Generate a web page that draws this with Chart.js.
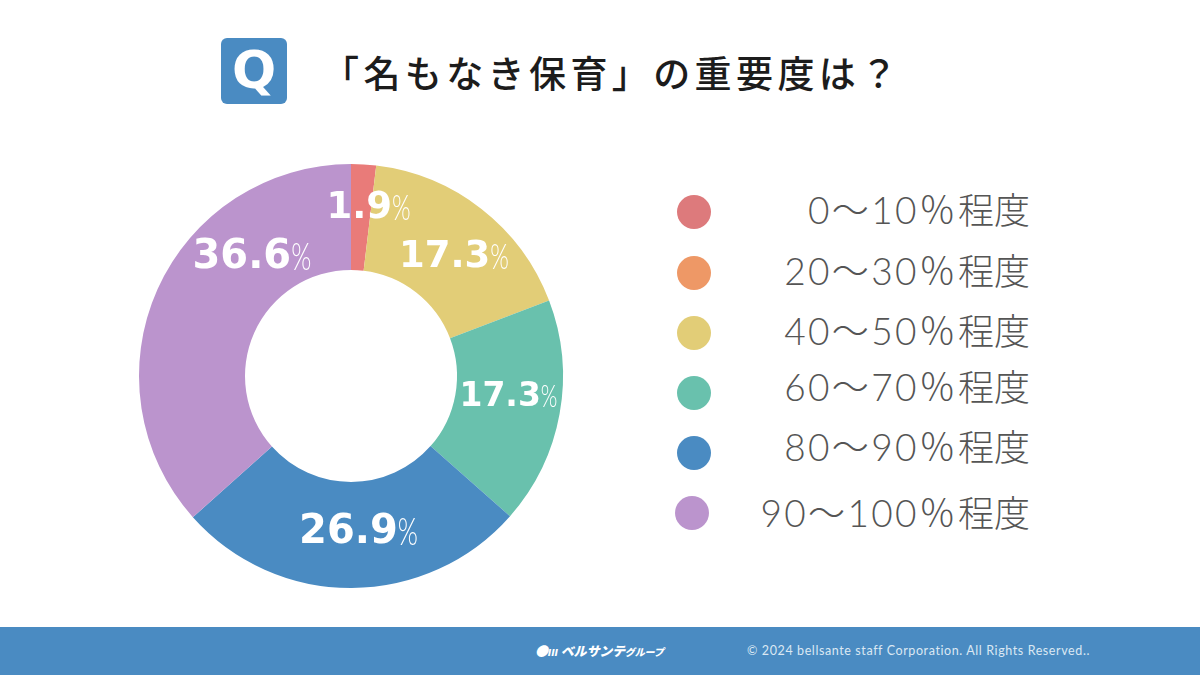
<!DOCTYPE html>
<html lang="ja">
<head>
<meta charset="utf-8">
<title>「名もなき保育」の重要度は?</title>
<script src="https://cdn.jsdelivr.net/npm/chart.js@4"></script>
<style>
html, body { margin: 0; padding: 0; background: #fff; }
#page { position: relative; width: 1200px; height: 675px; overflow: hidden; font-family: "Noto Sans CJK JP", sans-serif; }
#page div { position: absolute; white-space: nowrap; }
#chart { position: absolute; left: 131px; top: 156px; }
#icon { left: 221px; top: 38px; width: 66px; height: 66px; border-radius: 6px; background: #4a8bc2; color: #fff;
    font: 700 52px/64px "DejaVu Sans", sans-serif; text-align: center; }
#title { left: 322px; top: 44px; font-size: 37px; line-height: 56px; font-weight: 500; letter-spacing: 4.4px; color: #1c1c1c; }
.dot { width: 34px; height: 34px; border-radius: 50%; }
.name { right: 170px; font-family: Lato, "Noto Sans CJK JP", sans-serif; font-size: 37px; line-height: 44px; font-weight: 300; color: #555; letter-spacing: 2.3px; }
.name b { font-family: "Noto Sans CJK JP", sans-serif; font-size: 36px; font-weight: 300; letter-spacing: 0; }
#band { left: 0; top: 627px; width: 1200px; height: 48px; background: #4a8bc2; }
#logo { left: 535px; top: 641px; font-size: 13px; line-height: 20px; font-weight: 900; font-style: italic; color: #fff; letter-spacing: -.2px; }
#logo small { font-size: 10px; }
#copy { right: 110px; top: 642px; font: 400 12.5px/18px Lato, sans-serif; color: #dbe8f3; letter-spacing: .6px; }
</style>
</head>
<body>
<div id="page">
    <div id="icon">Q</div>
    <div id="title">「名もなき保育」の重要度は&#xFF1F;</div>
    <canvas id="chart" width="440" height="440"></canvas>
    <div id="band"></div>
    <div id="logo">●ııı ベルサンテ<small>グループ</small></div>
    <div id="copy">© 2024 bellsante staff Corporation. All Rights Reserved..</div>
</div>
<script>
const categories = ['0〜10\uFF05程度', '20〜30\uFF05程度', '40〜50\uFF05程度', '60〜70\uFF05程度', '80〜90\uFF05程度', '90〜100\uFF05程度'];
const shares = [1.9, 0, 17.3, 17.3, 26.9, 36.6];
const sliceColors = ['#e97b79', '#ee9866', '#e2cd77', '#69c1ad', '#4a8bc2', '#bb94cd'];
const dotColors = ['#dd7a7c', '#ee9866', '#e2cd77', '#69c1ad', '#4a8bc2', '#bb94cd'];

// hand placed in the original, so nudged away from the middle of each slice
const labelShift = [[8, -9], [0, 0], [5, 7], [1, -7], [7, -2], [46, -53]];
const labelSize = [37, 40, 37, 33, 40, 40];
const dotY = [212, 273, 333, 393, 453, 513];
const nameY = [208, 269, 329, 385, 445, 511];

const page = document.getElementById('page');
categories.forEach(function (cat, i) {
    let dot = document.createElement('div');
    dot.className = 'dot';
    dot.style.left = (i === 5 ? 675 : 677) + 'px';
    dot.style.top = (dotY[i] - 17) + 'px';
    dot.style.background = dotColors[i];
    page.appendChild(dot);

    let name = document.createElement('div');
    name.className = 'name';
    name.style.top = (nameY[i] - 22) + 'px';
    name.innerHTML = cat.replace('程度', '') + '<b>程度</b>';
    page.appendChild(name);
});

const sliceLabels = {
    id: 'sliceLabels',
    afterDatasetsDraw(chart) {
        const ctx = chart.ctx;
        chart.getDatasetMeta(0).data.forEach(function (arc, i) {
            if (!shares[i]) return;
            const pos = arc.tooltipPosition();
            const num = shares[i].toFixed(1);
            const size = labelSize[i];
            const squeeze = 0.68;
            ctx.save();
            ctx.fillStyle = '#fff';
            ctx.textBaseline = 'middle';
            ctx.textAlign = 'left';
            ctx.font = '700 ' + size + 'px "DejaVu Sans"';
            const numW = ctx.measureText(num).width;
            const numFont = ctx.font;
            ctx.font = '300 ' + (size * 0.95) + 'px Lato';
            const pctW = ctx.measureText('%').width * squeeze;
            const pctFont = ctx.font;
            const left = pos.x + labelShift[i][0] - (numW + pctW) / 2;
            const y = pos.y + labelShift[i][1];
            ctx.font = numFont;
            ctx.fillText(num, left, y);
            ctx.font = pctFont;
            ctx.translate(left + numW, y);
            ctx.scale(squeeze, 1);
            ctx.fillText('%', 0, 0);
            ctx.restore();
        });
    }
};

new Chart(document.getElementById('chart'), {
    type: 'doughnut',
    data: {
        labels: categories,
        datasets: [{
            data: shares,
            backgroundColor: sliceColors,
            borderWidth: 0
        }]
    },
    plugins: [sliceLabels],
    options: {
        responsive: false,
        animation: false,
        cutout: '50%',
        layout: { padding: 8 },
        plugins: {
            legend: { display: false },
            tooltip: { enabled: false }
        }
    }
});
</script>
</body>
</html>
